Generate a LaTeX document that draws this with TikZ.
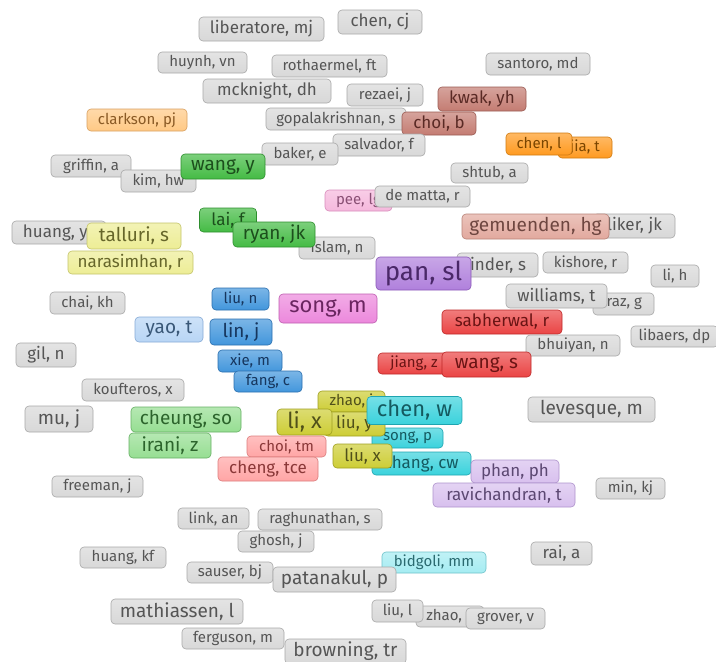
\documentclass[tikz,border=0pt]{standalone}
\usepackage{fontspec}
\setmainfont{Fira Sans}
\usepackage{xcolor}

% cluster colours: fill, border, text
\definecolor{greyF}{HTML}{D8D8D8}\definecolor{greyD}{HTML}{A8A8A8}\definecolor{greyT}{HTML}{555555}
\definecolor{orangeF}{HTML}{FF9A20}\definecolor{orangeD}{HTML}{D07A10}\definecolor{orangeT}{HTML}{7A4500}
\definecolor{lorangeF}{HTML}{FFC985}\definecolor{lorangeD}{HTML}{D8A060}\definecolor{lorangeT}{HTML}{8A5A25}
\definecolor{brownF}{HTML}{C47C72}\definecolor{brownD}{HTML}{9A5A52}\definecolor{brownT}{HTML}{5A2A25}
\definecolor{greenF}{HTML}{44BB44}\definecolor{greenD}{HTML}{2E8E2E}\definecolor{greenT}{HTML}{1C4F1C}
\definecolor{pinkF}{HTML}{F5B8DC}\definecolor{pinkD}{HTML}{D88CBB}\definecolor{pinkT}{HTML}{8A5075}
\definecolor{salmonF}{HTML}{E2A99E}\definecolor{salmonD}{HTML}{B88378}\definecolor{salmonT}{HTML}{6E4640}
\definecolor{lyellowF}{HTML}{EDED95}\definecolor{lyellowD}{HTML}{C4C46A}\definecolor{lyellowT}{HTML}{66662A}
\definecolor{purpleF}{HTML}{B080DC}\definecolor{purpleD}{HTML}{8A58B8}\definecolor{purpleT}{HTML}{4A2868}
\definecolor{blueF}{HTML}{4296DC}\definecolor{blueD}{HTML}{2A6EAE}\definecolor{blueT}{HTML}{16365E}
\definecolor{magentaF}{HTML}{EC88DC}\definecolor{magentaD}{HTML}{BE5EB0}\definecolor{magentaT}{HTML}{6A2560}
\definecolor{lblueF}{HTML}{B8D5F5}\definecolor{lblueD}{HTML}{86AAD6}\definecolor{lblueT}{HTML}{3A5878}
\definecolor{redF}{HTML}{EA4444}\definecolor{redD}{HTML}{BE2828}\definecolor{redT}{HTML}{6A1414}
\definecolor{lgreenF}{HTML}{96DE92}\definecolor{lgreenD}{HTML}{66B064}\definecolor{lgreenT}{HTML}{2C642C}
\definecolor{yellowF}{HTML}{CDCD35}\definecolor{yellowD}{HTML}{A0A020}\definecolor{yellowT}{HTML}{50501A}
\definecolor{cyanF}{HTML}{3AD2DC}\definecolor{cyanD}{HTML}{1EA4B0}\definecolor{cyanT}{HTML}{145A60}
\definecolor{lredF}{HTML}{FFA5A5}\definecolor{lredD}{HTML}{DC7C7C}\definecolor{lredT}{HTML}{8A3838}
\definecolor{lpurpleF}{HTML}{D8C0EE}\definecolor{lpurpleD}{HTML}{AE92CC}\definecolor{lpurpleT}{HTML}{5C4872}
\definecolor{lcyanF}{HTML}{A5ECF2}\definecolor{lcyanD}{HTML}{6EC2CA}\definecolor{lcyanT}{HTML}{2A6A70}

% text pushed to one side of its box (the other side is hidden)
\newcommand{\rtxt}[2]{\makebox[#1pt][r]{#2}}
\newcommand{\ltxt}[2]{\makebox[#1pt][l]{#2}}

\begin{document}
\begin{tikzpicture}[x=1pt, y=-1pt,
    lbl/.style={rounded corners=4pt, line width=0.6pt, inner xsep=2pt, inner ysep=0pt},
    clr/.style={draw=#1D, top color=#1F!70!white, bottom color=#1F, text=#1T},
    wh/.style 2 args={minimum width=#1pt, minimum height=#2pt},
    fS/.style={font=\fontsize{15}{15}\selectfont},
    fM/.style={font=\fontsize{17}{17}\selectfont},
    fL/.style={font=\fontsize{19}{19}\selectfont},
    fXL/.style={font=\fontsize{22}{22}\selectfont},
    fXXL/.style={font=\fontsize{26}{26}\selectfont}]
    \useasboundingbox (0,0) rectangle (716,662);

    % Top rows
    \node[lbl, clr=grey, fM, wh={125}{24}] (liberatore) at (261.5,29) {liberatore, mj};
    \node[lbl, clr=grey, fM, wh={84}{24}] (chencj) at (380,22) {chen, cj};
    \node[lbl, clr=grey, fS, wh={89}{21}] (huynh) at (202.5,62.5) {huynh, vn};
    \node[lbl, clr=grey, fS, wh={115}{22}] (rothaermel) at (329.5,66) {rothaermel, ft};
    \node[lbl, clr=grey, fS, wh={104}{22}] (santoro) at (538,64) {santoro, md};
    \node[lbl, clr=grey, fM, wh={128}{24}] (mcknight) at (267,91) {mcknight, dh};
    \node[lbl, clr=grey, fS, wh={76}{22}] (rezaei) at (385,95) {rezaei, j};
    \node[lbl, clr=brown, fM, wh={88}{24}] (kwak) at (482,99) {kwak, yh};
    \node[lbl, clr=lorange, fS, wh={100}{22}] (clarkson) at (137,120) {clarkson, pj};
    \node[lbl, clr=grey, fS, wh={140}{22}] (gopalakrishnan) at (336,119) {gopalakrishnan, s};
    \node[lbl, clr=brown, fM, wh={74}{23}] (choib) at (439,123.5) {choi, b};
    \node[lbl, clr=grey, fS, wh={92}{22}] (salvador) at (379,145) {salvador, f};
    \node[lbl, clr=grey, fS, wh={76}{22}] (baker) at (300,154) {baker, e};
    \node[lbl, clr=orange, fS, wh={54}{21}] (jia) at (585,147.5) {jia, t};
    \node[lbl, clr=orange, fS, wh={66}{22}] (chenl) at (539,144) {chen, l};
    \node[lbl, clr=grey, fS, wh={77}{20}] (shtub) at (489.5,173) {shtub, a};
    \node[lbl, clr=grey, fS, wh={80}{22}] (griffin) at (91,166) {griffin, a};
    \node[lbl, clr=grey, fS, wh={75}{22}] (kim) at (158.5,181) {kim, hw};
    \node[lbl, clr=green, fL, wh={84}{25}] (wangy) at (223,166.5) {wang, y};
    \node[lbl, clr=pink, fS, wh={67}{21}] (pee) at (358.5,200.5) {pee, lg};
    \node[lbl, clr=grey, fS, wh={95}{21}] (dematta) at (422.5,196.5) {de matta, r};

    % Middle rows
    \node[lbl, clr=green, fM, wh={57}{24}] (lai) at (228,220) {lai, f};
    \node[lbl, clr=grey, fS, wh={76}{22}] (islam) at (337,248) {islam, n};
    \node[lbl, clr=green, fL, wh={82}{25}] (ryan) at (274,234.5) {ryan, jk};
    \node[lbl, clr=grey, fM, wh={94}{23}] (huangy) at (59,232.5) {\ltxt{72}{huang, ys}};
    \node[lbl, clr=lyellow, fL, wh={94}{26}] (talluri) at (134,236) {talluri, s};
    \node[lbl, clr=lyellow, fM, wh={125}{23}] (narasimhan) at (130.5,262.5) {narasimhan, r};
    \node[lbl, clr=grey, fM, wh={82}{24}] (liker) at (634,226) {\rtxt{56}{liker, jk}};
    \node[lbl, clr=salmon, fL, wh={147}{25}] (gemuenden) at (535.5,226.5) {gemuenden, hg};
    \node[lbl, clr=grey, fM, wh={81}{24}] (binder) at (497.5,265) {\rtxt{57}{inder, s}};
    \node[lbl, clr=purple, fXXL, wh={95}{33}] (pan) at (423.5,273.5) {pan, sl};
    \node[lbl, clr=grey, fS, wh={85}{21}] (kishore) at (585.5,262.5) {kishore, r};
    \node[lbl, clr=grey, fS, wh={48}{22}] (lih) at (675,276) {li, h};
    \node[lbl, clr=grey, fS, wh={75}{22}] (chai) at (87.5,303) {chai, kh};
    \node[lbl, clr=blue, fS, wh={57}{22}] (liun) at (240.5,299) {liu, n};
    \node[lbl, clr=magenta, fXL, wh={98}{29}] (songm) at (328,308.5) {song, m};
    \node[lbl, clr=grey, fS, wh={61}{22}] (raz) at (623.5,304) {\rtxt{37}{raz, g}};
    \node[lbl, clr=grey, fM, wh={101}{24}] (williams) at (556.5,296) {williams, t};
    \node[lbl, clr=lblue, fL, wh={68}{25}] (yao) at (169,329.5) {yao, t};
    \node[lbl, clr=blue, fL, wh={62}{26}] (lin) at (241,332) {lin, j};
    \node[lbl, clr=red, fM, wh={120}{24}] (sabherwal) at (502,322) {sabherwal, r};
    \node[lbl, clr=grey, fS, wh={87}{21}] (libaers) at (674.5,336.5) {libaers, dp};
    \node[lbl, clr=grey, fS, wh={94}{21}] (bhuiyan) at (573,345.5) {bhuiyan, n};
    \node[lbl, clr=grey, fM, wh={60}{24}] (gil) at (46,355) {gil, n};
    \node[lbl, clr=blue, fS, wh={64}{22}] (xie) at (250,361) {xie, m};
    \node[lbl, clr=red, fS, wh={72}{21}] (jiang) at (414,363.5) {jiang, z};
    \node[lbl, clr=red, fL, wh={89}{25}] (wangs) at (486.5,364.5) {wang, s};
    \node[lbl, clr=blue, fS, wh={68}{21}] (fang) at (268,381.5) {fang, c};
    \node[lbl, clr=grey, fS, wh={102}{22}] (koufteros) at (133,390) {koufteros, x};
    \node[lbl, clr=grey, fL, wh={68}{26}] (mu) at (59,419) {mu, j};
    \node[lbl, clr=lgreen, fL, wh={110}{25}] (cheung) at (186,419.5) {cheung, so};
    \node[lbl, clr=grey, fL, wh={127}{25}] (levesque) at (591.5,409.5) {levesque, m};

    % Central cluster
    \node[lbl, clr=yellow, fS, wh={67}{21}] (zhaoj) at (351.5,401.5) {zhao, j};
    \node[lbl, clr=cyan, fS, wh={71}{20}] (songp) at (407.5,438) {song, p};
    \node[lbl, clr=yellow, fM, wh={61}{24}] (liuy) at (354.5,424) {liu, y};
    \node[lbl, clr=yellow, fXL, wh={55}{26}] (lix) at (304.5,422) {li, x};
    \node[lbl, clr=cyan, fXL, wh={95}{28}] (chenw) at (414.5,410.5) {chen, w};
    \node[lbl, clr=lgreen, fL, wh={82}{25}] (irani) at (170,445.5) {irani, z};
    \node[lbl, clr=lred, fS, wh={79}{21}] (choitm) at (286.5,446.5) {choi, tm};
    \node[lbl, clr=lred, fM, wh={100}{24}] (cheng) at (268,469) {cheng, tce};
    \node[lbl, clr=cyan, fM, wh={99}{23}] (zhang) at (421.5,463.5) {zhang, cw};
    \node[lbl, clr=yellow, fM, wh={59}{24}] (liux) at (362.5,456) {liu, x};
    \node[lbl, clr=lpurple, fM, wh={88}{23}] (phan) at (515,471.5) {phan, ph};
    \node[lbl, clr=lpurple, fM, wh={142}{24}] (ravichandran) at (504,495) {ravichandran, t};

    % Bottom rows
    \node[lbl, clr=grey, fS, wh={91}{21}] (freeman) at (97.5,486.5) {freeman, j};
    \node[lbl, clr=grey, fS, wh={69}{21}] (min) at (630.5,488.5) {min, kj};
    \node[lbl, clr=grey, fS, wh={71}{21}] (link) at (213.5,518.5) {link, an};
    \node[lbl, clr=grey, fS, wh={124}{21}] (raghunathan) at (320,519.5) {raghunathan, s};
    \node[lbl, clr=grey, fS, wh={76}{21}] (ghosh) at (276,541.5) {ghosh, j};
    \node[lbl, clr=grey, fS, wh={86}{21}] (huangkf) at (123,557.5) {huang, kf};
    \node[lbl, clr=lcyan, fS, wh={104}{21}] (bidgoli) at (434,562.5) {bidgoli, mm};
    \node[lbl, clr=grey, fM, wh={61}{23}] (rai) at (561.5,553.5) {rai, a};
    \node[lbl, clr=grey, fS, wh={86}{21}] (sauser) at (230,572.5) {sauser, bj};
    \node[lbl, clr=grey, fL, wh={123}{25}] (patanakul) at (334.5,579.5) {patanakul, p};
    \node[lbl, clr=grey, fL, wh={132}{25}] (mathiassen) at (177,611.5) {mathiassen, l};
    \node[lbl, clr=grey, fS, wh={68}{21}] (zhaok) at (450,616.5) {zhao, k};
    \node[lbl, clr=grey, fS, wh={51}{22}] (liul) at (397.5,611) {liu, l};
    \node[lbl, clr=grey, fS, wh={79}{21}] (grover) at (505.5,618.5) {grover, v};
    \node[lbl, clr=grey, fS, wh={102}{21}] (ferguson) at (233,638.5) {ferguson, m};
    \node[lbl, clr=grey, fL, wh={121}{25}] (browning) at (345.5,651.5) {browning, tr};

\end{tikzpicture}
\end{document}
